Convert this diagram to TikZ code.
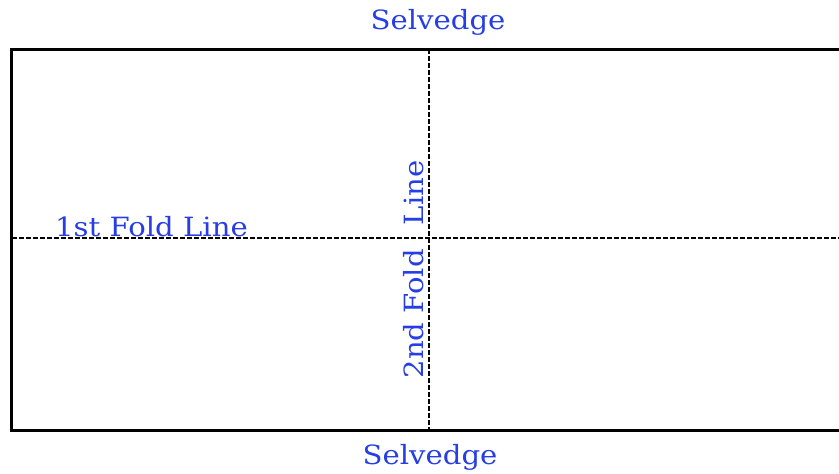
\documentclass[tikz,border=0pt]{standalone}
\usepackage{fontspec}
\setmainfont{DejaVu Serif}
\definecolor{lbl}{RGB}{38,62,228}
\newcommand{\widetext}[1]{\scalebox{1.1}[1]{#1}}
\begin{document}
\begin{tikzpicture}[x=1pt,y=-1pt,
  lbltext/.style={text=lbl,font=\fontsize{26.5}{28}\selectfont,inner sep=0pt},
  border/.style={line width=3pt,black},
  foldline/.style={line width=2.4pt,black,dash pattern=on 4.5pt off 2.5pt}]
\useasboundingbox (0,0) rectangle (839,474);
\begin{scope}
\clip (0,0) rectangle (839,474);
\coordinate (tl) at (11.5,49.5);
\coordinate (tr) at (845,49.5);
\coordinate (bl) at (11.5,430);
\coordinate (br) at (845,430);
\draw[border] (tr) -- (tl) -- (bl) -- (br);
\coordinate (vt) at (429,49);
\coordinate (vb) at (429,430);
\coordinate (hl) at (12,238);
\coordinate (hr) at (845,238);
\draw[foldline] (vt) -- (vb);
\draw[foldline] (hl) -- (hr);
\end{scope}
\node[lbltext,anchor=base] (top) at (438,29) {\widetext{Selvedge}};
\node[lbltext,anchor=base] (bot) at (430,464) {\widetext{Selvedge}};
\node[lbltext,anchor=base west] (first) at (55,236) {\widetext{1st Fold Line}};
\node[lbltext,rotate=90,anchor=base] (second) at (423,269.5) {\widetext{2nd Fold\hspace{0.5em} Line}};
\end{tikzpicture}
\end{document}
